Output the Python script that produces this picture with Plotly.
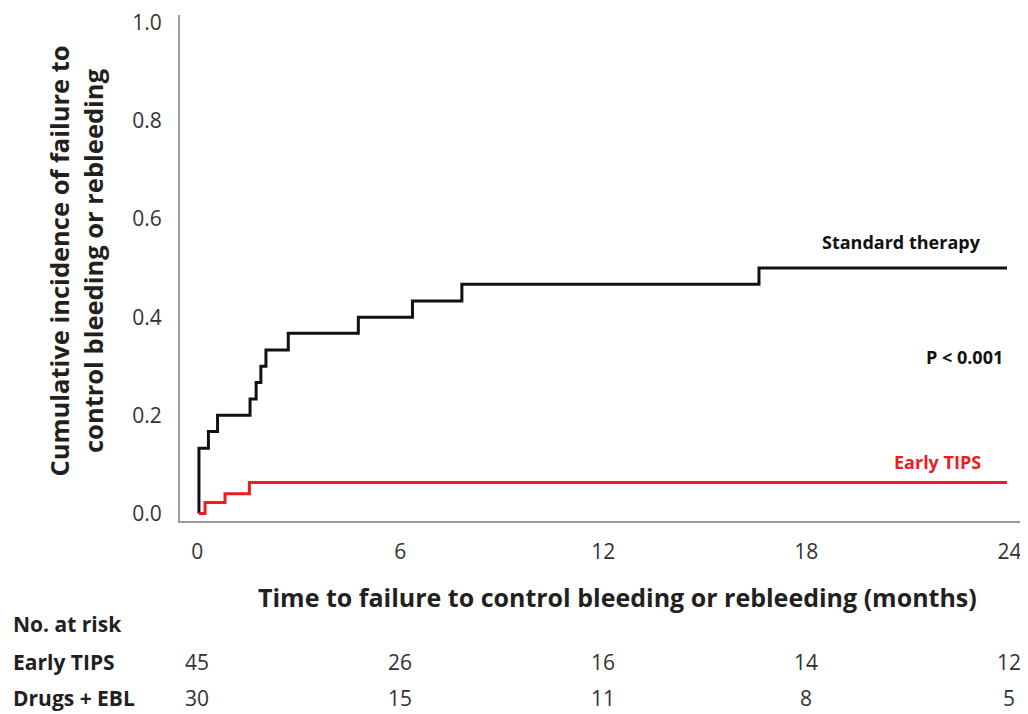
import plotly.graph_objects as go

# Step-curve data (months, cumulative incidence)
std_time = [0.05, 0.05, 0.33, 0.6, 1.56, 1.74, 1.88, 2.03, 2.69, 4.76, 6.36, 7.82, 16.6, 23.93]
std_inc = [0.0, 0.133, 0.167, 0.2, 0.233, 0.267, 0.3, 0.333, 0.367, 0.4, 0.433, 0.467, 0.5, 0.5]

tips_time = [0.05, 0.23, 0.82, 1.54, 23.93]
tips_inc = [0.0, 0.022, 0.04, 0.063, 0.063]

x_ticks = [0, 6, 12, 18, 24]
y_ticks = [0.0, 0.2, 0.4, 0.6, 0.8, 1.0]

risk_times = [0, 6, 12, 18, 24]
risk_tips = [45, 26, 16, 14, 12]
risk_drugs = [30, 15, 11, 8, 5]

BLACK = "#111111"
RED = "#ED1C24"
TEXT = "#231F20"
FONT = "Open Sans"

# The page body adds an 8px offset; the figure is sized/positioned to compensate.
OFF = 8
W, H = 1020, 706
L, R, T, B = 172, 0, 0, 193
plot_w = W - L - R
plot_h = H - T - B


def py(ref_y):
    return (H - B - (ref_y - OFF)) / plot_h


def px(ref_x):
    return (ref_x - OFF - L) / plot_w


fig = go.Figure()
fig.add_trace(go.Scatter(x=std_time, y=std_inc, mode="lines", line=dict(color=BLACK, width=3, shape="hv"),
                         showlegend=False, hoverinfo="skip"))
fig.add_trace(go.Scatter(x=tips_time, y=tips_inc, mode="lines", line=dict(color=RED, width=3, shape="hv"),
                         showlegend=False, hoverinfo="skip"))

fig.update_layout(
    width=W, height=H,
    margin=dict(l=L, r=R, t=T, b=B),
    paper_bgcolor="white", plot_bgcolor="white",
    font=dict(family=FONT, color=TEXT),
    xaxis=dict(range=[-0.51, 24.55], tickvals=x_ticks, ticktext=[str(v) for v in x_ticks],
               showgrid=False, zeroline=False, showline=True, linecolor="#9A9A9A", linewidth=2,
               ticks="", tickfont=dict(size=21, color="#333333", family=FONT), ticklabelstandoff=11,
               ticklabeloverflow="allow"),
    yaxis=dict(range=[-0.0155, 1.016], tickvals=y_ticks, tickformat=".1f",
               showgrid=False, zeroline=False, showline=True, linecolor="#9A9A9A", linewidth=2,
               ticks="", tickfont=dict(size=21, color="#333333", family=FONT), ticklabelstandoff=12,
               ticklabeloverflow="allow"),
)

ann = []
# Curve labels
ann.append(dict(x=px(983), y=py(238), xref="paper", yref="paper", xanchor="right", yanchor="middle",
                text="<b>Standard therapy</b>", showarrow=False, font=dict(size=18, color=BLACK)))
ann.append(dict(x=px(1005), y=py(355), xref="paper", yref="paper", xanchor="right", yanchor="middle",
                text="<b>P < 0.001</b>", showarrow=False, font=dict(size=18, color=BLACK)))
ann.append(dict(x=px(983), y=py(461), xref="paper", yref="paper", xanchor="right", yanchor="middle",
                text="<b>Early TIPS</b>", showarrow=False, font=dict(size=18, color=RED)))
# Axis titles
ann.append(dict(x=px(617), y=py(598), xref="paper", yref="paper", xanchor="center", yanchor="middle",
                text="<b>Time to failure to control bleeding or rebleeding (months)</b>", showarrow=False,
                font=dict(size=25, color=TEXT)))
ann.append(dict(x=px(76), y=py(258), xref="paper", yref="paper", xanchor="center", yanchor="middle",
                text="<b>Cumulative incidence of failure to<br>control bleeding or rebleeding</b>",
                textangle=-90, showarrow=False, font=dict(size=25.5, color=TEXT)))
# Number at risk table
ann.append(dict(x=px(11), y=py(625), xref="paper", yref="paper", xanchor="left", yanchor="middle",
                text="<b>No. at risk</b>", showarrow=False, font=dict(size=21, color=TEXT)))
ann.append(dict(x=px(11), y=py(664), xref="paper", yref="paper", xanchor="left", yanchor="middle",
                text="<b>Early TIPS</b>", showarrow=False, font=dict(size=21, color=TEXT)))
ann.append(dict(x=px(11), y=py(700), xref="paper", yref="paper", xanchor="left", yanchor="middle",
                text="<b>Drugs + EBL</b>", showarrow=False, font=dict(size=21, color=TEXT)))
for t, a, b in zip(risk_times, risk_tips, risk_drugs):
    ann.append(dict(x=t, y=py(664), xref="x", yref="paper", xanchor="center", yanchor="middle",
                    text=str(a), showarrow=False, font=dict(size=21, color="#333333")))
    ann.append(dict(x=t, y=py(700), xref="x", yref="paper", xanchor="center", yanchor="middle",
                    text=str(b), showarrow=False, font=dict(size=21, color="#333333")))

fig.update_layout(annotations=ann)
fig.write_html("out.html")
